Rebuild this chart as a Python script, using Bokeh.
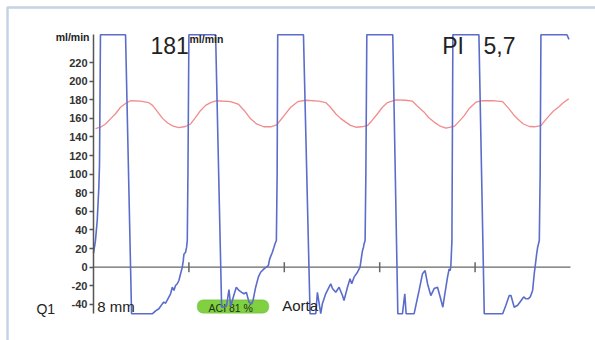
from bokeh.plotting import figure
from bokeh.models import LinearAxis, FixedTicker, Range1d, Label, BoxAnnotation, ColumnDataSource
from bokeh.embed import file_html
from bokeh.resources import INLINE

# ---- data (time in s, flow in ml/min) ----
blue_time = [0.000, 0.020, 0.039, 0.056, 0.063, 0.073, 0.336, 0.399, 0.619, 0.651, 0.685, 0.721,
             0.738, 0.756, 0.780, 0.808, 0.826, 0.843, 0.860, 0.878, 0.895, 0.913, 0.931, 0.941,
             0.948, 0.965, 0.976, 0.983, 0.990, 1.000,
             1.280, 1.343, 1.394, 1.420, 1.438, 1.472, 1.497, 1.525, 1.553, 1.577, 1.602, 1.630,
             1.658, 1.672, 1.700, 1.728, 1.752, 1.787, 1.812, 1.833, 1.847, 1.875, 1.892, 1.902,
             1.917, 1.925, 1.931,
             2.201, 2.270, 2.330, 2.347, 2.382, 2.400, 2.434, 2.469, 2.487, 2.505, 2.539, 2.574,
             2.610, 2.626, 2.662, 2.689, 2.707, 2.731, 2.767, 2.794, 2.809, 2.820, 2.830, 2.836,
             2.847, 2.855, 2.865,
             3.137, 3.190, 3.239, 3.263, 3.277, 3.361, 3.413, 3.449, 3.476, 3.502, 3.536, 3.571,
             3.606, 3.634, 3.662, 3.683, 3.711, 3.728, 3.739, 3.746, 3.757, 3.767,
             4.040, 4.096, 4.289, 4.323, 4.358, 4.376, 4.410, 4.446, 4.481, 4.509, 4.533, 4.557,
             4.578, 4.603, 4.620, 4.631, 4.645, 4.656, 4.673, 4.682, 4.690,
             4.963, 4.984]
blue_flow = [15, 28, 50, 86, 110, 250, 250, -50, -50, -47, -44.7, -39.4,
             -37.6, -38.7, -34, -28.6, -21.5, -25, -19.7, -17.8, -14.3, -7, 0, 7,
             14, 16, 21.5, 28.7, 100, 250,
             250, -43, -42, -24, -42, -30, -21.5, -25, -27, -28.6, -27, -37.6,
             -39.4, -35.8, -21.5, -10.7, -5.4, -1.8, 0, 1.8, 9, 16, 21.5, 25,
             28.7, 100, 250,
             250, -50, -50, -27, -50, -39, -28.6, -21.5, -17.9, -23, -27, -21.5,
             -30.5, -35.8, -21.5, -12.5, -17.9, -10.7, -5.4, 0, 10.8, 18, 21.5, 25,
             28.7, 100, 250,
             250, -50, -50, -28.6, -50, -50, -25, -7, -3.6, -18, -30.5, -23,
             -21.5, -32, -43, -28.6, -10.7, -1.8, -3.6, 1.8, 28, 250,
             250, -50, -50, -41, -30.5, -30.5, -43, -41, -36, -32, -34, -34,
             -32, -25, -7, 1.8, 14, 21.5, 28.7, 100, 250,
             250, 245]

red_time = [0.021, 0.073, 0.126, 0.178, 0.231, 0.283, 0.336, 0.388, 0.493, 0.577, 0.619, 0.672,
            0.724, 0.777, 0.829, 0.892, 0.965, 1.018, 1.070, 1.123, 1.175, 1.228, 1.291, 1.438,
            1.522, 1.584, 1.647, 1.710, 1.784, 1.857, 1.920, 1.983, 2.067, 2.141, 2.225, 2.361,
            2.434, 2.484, 2.539, 2.589, 2.644, 2.694, 2.749, 2.809, 2.872, 2.914, 2.977, 3.029,
            3.082, 3.169, 3.270, 3.344, 3.396, 3.466, 3.512, 3.571, 3.627, 3.694, 3.781, 3.826,
            3.886, 3.941, 4.008, 4.079, 4.182, 4.289, 4.319, 4.358, 4.403, 4.463, 4.507, 4.568,
            4.623, 4.690, 4.728, 4.777, 4.822, 4.882, 4.927, 4.981]
red_flow = [149, 150.5, 154, 159.5, 165, 172, 176, 179, 178.5, 177, 174, 167,
            160, 155, 152, 150, 151.3, 154, 161, 168.5, 174, 177, 179, 178,
            175, 168, 159.5, 154, 151, 151, 153, 161, 172, 178, 179.5, 178.5,
            177, 172, 165, 160, 156, 152.5, 150.5, 151, 152.3, 157, 165, 172,
            177, 180, 179.5, 178.5, 173, 166.7, 161, 156, 152, 149.5, 151.3, 156,
            163, 171, 177.4, 179, 179, 178, 174.5, 170, 164, 157.7, 154, 151.3,
            151, 152.3, 157, 163, 168, 172.8, 177, 181]

record_span = [0, 5]          # time extent of the recording (s)
y_ticks = [-40, -20, 0, 20, 40, 60, 80, 100, 120, 140, 160, 180, 200, 220]
x_ticks = [1, 2, 3, 4]
flow_value = "181"
flow_unit = "ml/min"
pi_label = "PI"
pi_value = "5,7"
channel = "Q1"
probe = "8 mm"
aci_text = "ACI 81 %"
vessel = "Aorta"

FONT = "Liberation Sans"
TXT = "#222222"

p = figure(width=595, height=340, output_backend="svg", toolbar_location=None,
           x_axis_type=None, y_axis_type=None,
           x_range=Range1d(-0.9748, 5.2621), y_range=Range1d(-78.82, 286.77),
           min_border_left=0, min_border_right=0, min_border_top=0, min_border_bottom=0)
p.outline_line_color = None
p.background_fill_color = "white"
p.border_fill_color = "white"
p.grid.visible = False

yaxis = LinearAxis(ticker=FixedTicker(ticks=y_ticks), bounds=(-50, 250), fixed_location=0)
yaxis.axis_line_color = "#555555"
yaxis.axis_line_width = 1.5
yaxis.major_tick_line_color = "#555555"
yaxis.major_tick_line_width = 1.3
yaxis.major_tick_in = 0
yaxis.major_tick_out = 4
yaxis.minor_tick_line_color = None
yaxis.major_label_standoff = 2
yaxis.major_label_text_font = FONT
yaxis.major_label_text_font_style = "bold"
yaxis.major_label_text_font_size = "11px"
yaxis.major_label_text_color = "#333333"
yaxis.major_label_overrides = {t: str(t) for t in y_ticks if t < 0}
p.add_layout(yaxis, "left")

# time axis along zero flow, with its ticks
p.line(x=record_span, y=[0, 0], line_color="#666666", line_width=1.2)
p.segment(x0=x_ticks, x1=x_ticks, y0=[-5.4] * len(x_ticks), y1=[5.4] * len(x_ticks),
          line_color="#666666", line_width=1.5)

# ACI badge
badge = BoxAnnotation(left=1.087, right=1.838, top=-35.1, bottom=-49.5,
                      fill_color="#80d042", fill_alpha=1.0, line_color="#5aa52e",
                      line_width=1, border_radius=6, level="underlay")
p.add_layout(badge)
p.add_layout(Label(x=1.439, y=-43.8, text=aci_text, text_align="center", text_baseline="alphabetic",
                   text_font=FONT, text_font_size="10.5px", text_color="#1c3310", level="underlay"))

red_src = ColumnDataSource(dict(t=red_time, q=red_flow))
blue_src = ColumnDataSource(dict(t=blue_time, q=blue_flow))
p.line("t", "q", source=red_src, line_color="#f28c8c", line_width=1.3)
p.line("t", "q", source=blue_src, line_color="#5b6cca", line_width=1.6)

def lab(x, y, text, size, align="left", style="normal"):
    p.add_layout(Label(x=x, y=y, text=text, text_align=align, text_baseline="alphabetic",
                       text_font=FONT, text_font_size=size, text_font_style=style, text_color=TXT))

lab(-0.042, 248, flow_unit, "10.5px", align="right", style="bold")
lab(0.597, 238, flow_value, "23px")
lab(1.006, 245.9, flow_unit, "10.5px", style="bold")
lab(3.655, 238, pi_label, "23px")
lab(4.088, 238, pi_value, "23px")
lab(-0.598, -45.4, channel, "14px")
lab(0.039, -42.4, probe, "15px")
lab(1.978, -41.3, vessel, "15px")

# outer panel frame (left and top edges visible)
frame_box = BoxAnnotation(left=-0.9015, top=279.25, right=6.5, bottom=-120,
                          fill_color=None, line_color="#3f6ea6", line_width=2.5, level="overlay")
p.add_layout(frame_box)

open("out.html", "w").write(file_html(p, INLINE))
